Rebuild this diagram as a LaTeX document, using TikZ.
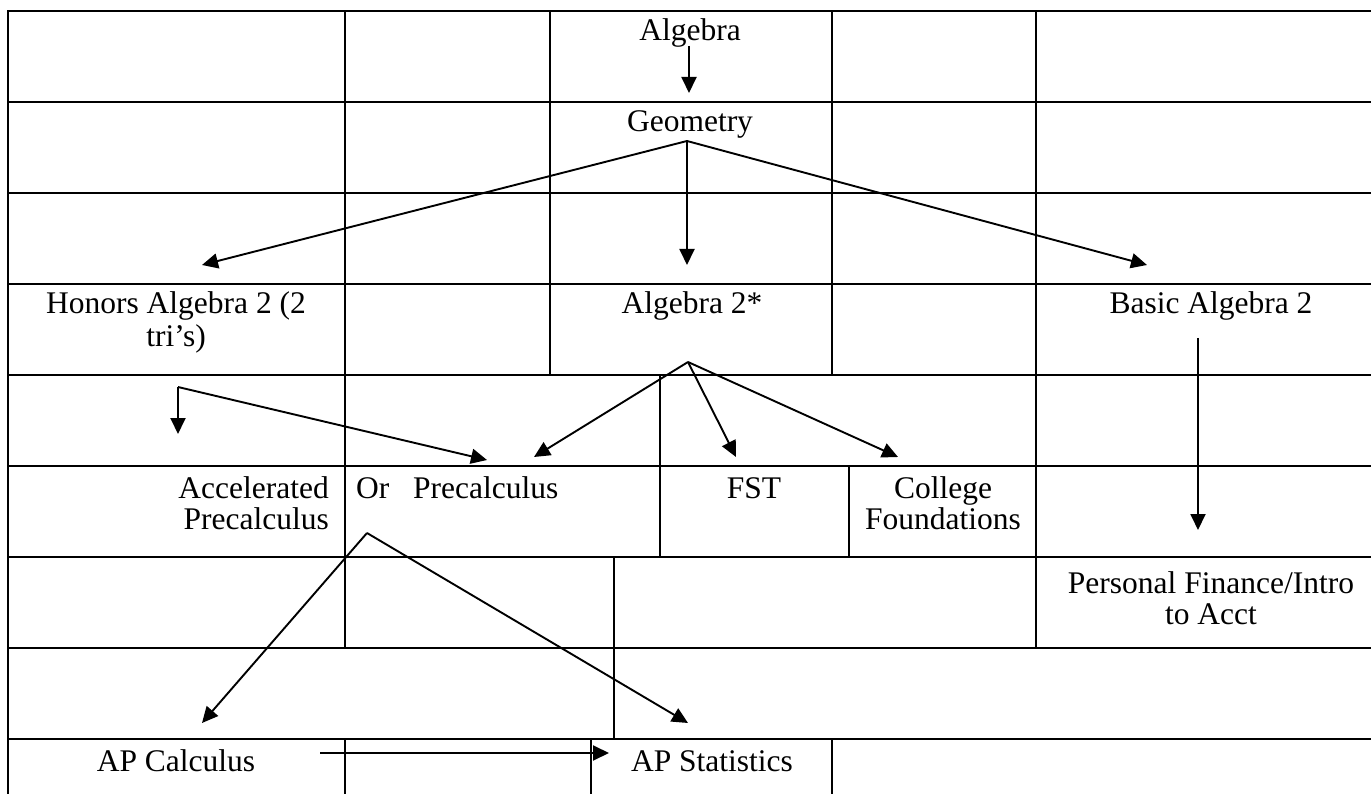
\documentclass[tikz,border=0pt]{standalone}
\usepackage{fontspec}
\setmainfont{Liberation Serif}
\usetikzlibrary{arrows.meta}
\begin{document}
\begin{tikzpicture}[x=1pt,y=-1pt,
  grid/.style={line width=2.8pt,line cap=rect},
  conn/.style={line width=1.9pt,-{Triangle[length=16pt,width=15pt]}},
  lbl/.style={inner sep=0pt,font=\fontsize{31.5}{31}\selectfont}]
\useasboundingbox (0,0) rectangle (1371,794);
\fill[white] (0,0) rectangle (1371,794);
\begin{scope}
\clip (0,0) rectangle (1371,794);
\foreach \y in {11,102,...,739} \draw[grid] (8,\y) -- (1400,\y);
\draw[grid] (8,11) -- (8,810);
\draw[grid] (345,11) -- (345,648);
\draw[grid] (345,739) -- (345,810);
\draw[grid] (550,11) -- (550,375);
\draw[grid] (832,11) -- (832,375);
\draw[grid] (832,739) -- (832,810);
\draw[grid] (1036,11) -- (1036,648);
\draw[grid] (660,375) -- (660,557);
\draw[grid] (849,466) -- (849,557);
\draw[grid] (614,557) -- (614,739);
\draw[grid] (591,739) -- (591,810);
\end{scope}
% labels (multi-line labels are anchored at the baseline of their last line)
\node[lbl,anchor=base] (alg) at (690,41) {Algebra};
\node[lbl,anchor=base] (geo) at (690,132) {Geometry};
\node[lbl,anchor=base,align=center] (hon) at (176,347) {Honors Algebra 2 (2\\[2pt]tri’s)};
\node[lbl,anchor=base] (alg2) at (692,314) {Algebra 2*};
\node[lbl,anchor=base] (basic) at (1211,314) {Basic Algebra 2};
\node[lbl,anchor=base east,align=right] (acc) at (329,529) {Accelerated\\Precalculus};
\node[lbl,anchor=base west] (pre) at (356,498) {Or\ \ \ Precalculus};
\node[lbl,anchor=base] (fst) at (754,498) {FST};
\node[lbl,anchor=base,align=center] (col) at (943,529) {College\\Foundations};
\node[lbl,anchor=base,align=center] (pf) at (1211,624) {Personal Finance/Intro\\to Acct};
\node[lbl,anchor=base] (apc) at (176,771) {AP Calculus};
\node[lbl,anchor=base] (aps) at (712,771) {AP Statistics};
% connector points
\coordinate (algS) at (689,46);
\coordinate (geoN) at (689,93);
\coordinate (geoS) at (687,141);
\coordinate (honN) at (202,265);
\coordinate (alg2N) at (687,265);
\coordinate (basicN) at (1147,265);
\coordinate (honS) at (178,387);
\coordinate (accN) at (178,434);
\coordinate (preN1) at (487,460);
\coordinate (alg2S) at (688,362);
\coordinate (preN2) at (534,457);
\coordinate (fstN) at (736,457);
\coordinate (colN) at (898,457);
\coordinate (basicS) at (1198,338);
\coordinate (pfN) at (1198,530);
\coordinate (preS) at (367,533);
\coordinate (apcN) at (202,723);
\coordinate (apsN) at (688,723);
\coordinate (apcE) at (320,753);
\coordinate (apsW) at (609,753);
% connectors
\draw[conn] (algS) -- (geoN);
\draw[conn] (geoS) -- (honN);
\draw[conn] (geoS) -- (alg2N);
\draw[conn] (geoS) -- (basicN);
\draw[conn] (honS) -- (accN);
\draw[conn] (honS) -- (preN1);
\draw[conn] (alg2S) -- (preN2);
\draw[conn] (alg2S) -- (fstN);
\draw[conn] (alg2S) -- (colN);
\draw[conn] (basicS) -- (pfN);
\draw[conn] (preS) -- (apcN);
\draw[conn] (preS) -- (apsN);
\draw[conn] (apcE) -- (apsW);
\end{tikzpicture}
\end{document}
